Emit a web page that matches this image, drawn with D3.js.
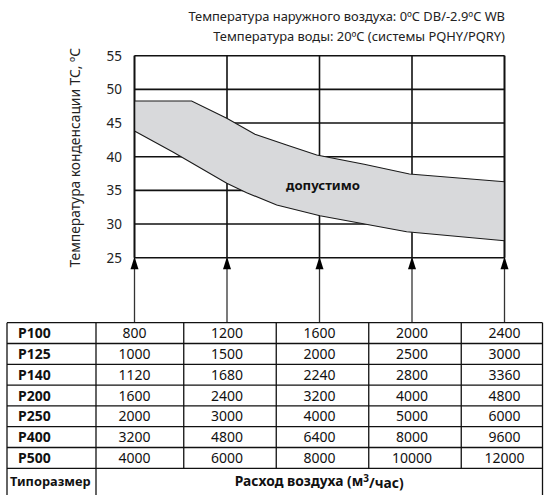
<!DOCTYPE html>
<html>
<head>
<meta charset="utf-8">
<script src="https://cdn.jsdelivr.net/npm/d3@7"></script>
<style>
  html, body { margin: 0; padding: 0; background: #fff; }
  svg { display: block; font-family: "Noto Sans", "Open Sans", sans-serif; }
</style>
</head>
<body>
<svg id="chart" width="544" height="495"></svg>
<script>
// ---- data ----
const airflowTicks = [800, 1200, 1600, 2000, 2400];          // P100 air flow, m3/h
const tempTicks = [25, 30, 35, 40, 45, 50, 55];
const upperBound = [[800, 48.27], [1047, 48.27], [1199, 45.7], [1321, 43.33], [1458, 41.74], [1588, 40.25], [1793, 38.87], [1989, 37.43], [2400, 36.29]];
const lowerBound = [[800, 43.82], [968, 40.65], [1199, 36.05], [1285, 34.65], [1415, 32.83], [1602, 31.24], [1977, 28.86], [2400, 27.52]];
const models = ["P100", "P125", "P140", "P200", "P250", "P400", "P500"];
const flowP100 = [800, 1200, 1600, 2000, 2400];
const flowP125 = [1000, 1500, 2000, 2500, 3000];
const flowP140 = [1120, 1680, 2240, 2800, 3360];
const flowP200 = [1600, 2400, 3200, 4000, 4800];
const flowP250 = [2000, 3000, 4000, 5000, 6000];
const flowP400 = [3200, 4800, 6400, 8000, 9600];
const flowP500 = [4000, 6000, 8000, 10000, 12000];
const tableValues = [flowP100, flowP125, flowP140, flowP200, flowP250, flowP400, flowP500];
const titleLine1 = "Температура наружного воздуха: 0ºC DB/-2.9ºC WB";
const titleLine2 = "Температура воды: 20ºC (системы PQHY/PQRY)";
const yLabel = "Температура конденсации ТС, ºС";
const bandLabel = "допустимо";
const footLeft = "Типоразмер";
const footRight = "Расход воздуха (м";

// ---- layout ----
const svg = d3.select("#chart");
const x = d3.scaleLinear().domain([800, 2400]).range([134.5, 504.5]);
const y = d3.scaleLinear().domain([25, 55]).range([257.7, 55.7]);
const tableTop = 322.7, rowH = 20.8, tableLeft = 7, tableRight = 542.5, firstColRight = 96;
const lineColor = "#111";

// title
svg.append("text").attr("x", 505).attr("y", 20.5).attr("text-anchor", "end")
  .attr("font-size", 12.9).attr("fill", "#222").text(titleLine1);
svg.append("text").attr("x", 505).attr("y", 40.5).attr("text-anchor", "end")
  .attr("font-size", 12.9).attr("fill", "#222").text(titleLine2);

// grid horizontal
svg.append("g").selectAll("line").data(tempTicks).join("line")
  .attr("x1", x(800)).attr("x2", x(2400))
  .attr("y1", d => y(d)).attr("y2", d => y(d))
  .attr("stroke", lineColor).attr("stroke-width", 1.6);
// grid vertical
svg.append("g").selectAll("line").data(airflowTicks).join("line")
  .attr("x1", d => x(d)).attr("x2", d => x(d))
  .attr("y1", y(55)).attr("y2", y(25))
  .attr("stroke", lineColor).attr("stroke-width", 1.6);

// band (drawn over grid)
const line = d3.line().x(d => x(d[0])).y(d => y(d[1]));
const bandPath = line(upperBound) + "L" + line(lowerBound.slice().reverse()).slice(1) + "Z";
svg.append("path").attr("d", bandPath).attr("fill", "#d8d9db").attr("stroke", "none");
svg.append("path").attr("d", line(upperBound)).attr("fill", "none").attr("stroke", "#1a1a1a").attr("stroke-width", 1.1);
svg.append("path").attr("d", line(lowerBound)).attr("fill", "none").attr("stroke", "#1a1a1a").attr("stroke-width", 1.1);
// left axis line over band, right edge of band
svg.append("line").attr("x1", x(800)).attr("x2", x(800)).attr("y1", y(55)).attr("y2", y(25))
  .attr("stroke", lineColor).attr("stroke-width", 1.6);
svg.append("line").attr("x1", x(2400)).attr("x2", x(2400))
  .attr("y1", y(55)).attr("y2", y(25))
  .attr("stroke", lineColor).attr("stroke-width", 1.6);

// y tick labels
svg.append("g").selectAll("text").data(tempTicks).join("text")
  .attr("x", 122).attr("y", d => y(d)).attr("dy", "0.36em")
  .attr("text-anchor", "end").attr("font-size", 13.5).attr("fill", "#222")
  .text(d => d);

// y label
svg.append("text").attr("transform", `translate(80,${y(40) + 1}) rotate(-90)`)
  .attr("text-anchor", "middle").attr("font-size", 13.8).attr("fill", "#222").text(yLabel);

// band label
svg.append("text").attr("x", 323).attr("y", 190).attr("text-anchor", "middle")
  .attr("font-size", 13.2).attr("font-weight", "bold").attr("fill", "#111").text(bandLabel);

// arrows
const arrows = svg.append("g");
arrows.selectAll("line").data(airflowTicks).join("line")
  .attr("x1", d => x(d)).attr("x2", d => x(d))
  .attr("y1", y(25)).attr("y2", tableTop)
  .attr("stroke", "#333").attr("stroke-width", 1.3);
arrows.selectAll("path").data(airflowTicks).join("path")
  .attr("d", d => `M${x(d)},${y(25) - 1} L${x(d) - 4},${y(25) + 11.5} L${x(d) + 4},${y(25) + 11.5} Z`)
  .attr("fill", "#000");

// table
const colEdges = [firstColRight].concat(airflowTicks.slice(0, -1).map((d, i) => (x(d) + x(airflowTicks[i + 1])) / 2 + 3)).concat([tableRight]);
const tbl = svg.append("g");
const nRows = models.length;
const tableBottom = tableTop + rowH * nRows;
const footBottom = 496;
tbl.selectAll("line.h").data(d3.range(nRows + 1)).join("line").attr("class", "h")
  .attr("x1", tableLeft).attr("x2", tableRight)
  .attr("y1", i => tableTop + i * rowH).attr("y2", i => tableTop + i * rowH)
  .attr("stroke", lineColor).attr("stroke-width", 1.3);
[tableLeft, firstColRight, tableRight].forEach(xx => {
  tbl.append("line").attr("x1", xx).attr("x2", xx).attr("y1", tableTop).attr("y2", footBottom)
    .attr("stroke", lineColor).attr("stroke-width", 1.3);
});
tbl.selectAll("line.v").data(colEdges.slice(1, -1)).join("line").attr("class", "v")
  .attr("x1", d => d).attr("x2", d => d).attr("y1", tableTop).attr("y2", tableBottom)
  .attr("stroke", lineColor).attr("stroke-width", 1.3);
tbl.selectAll("text.m").data(models).join("text").attr("class", "m")
  .attr("x", 18).attr("y", (d, i) => tableTop + i * rowH + rowH / 2).attr("dy", "0.36em")
  .attr("font-size", 14).attr("font-weight", "bold").attr("fill", "#111").text(d => d);
tableValues.forEach((row, i) => {
  tbl.append("g").selectAll("text").data(row).join("text")
    .attr("x", (d, j) => x(airflowTicks[j])).attr("y", tableTop + i * rowH + rowH / 2).attr("dy", "0.36em")
    .attr("text-anchor", "middle").attr("font-size", 14).attr("fill", "#111").text(d => d);
});
const footMid = (tableBottom + 494) / 2;
tbl.append("text").attr("x", 10).attr("y", footMid).attr("dy", "0.36em")
  .attr("font-size", 12.8).attr("font-weight", "bold").attr("fill", "#111").text(footLeft);
const ft = tbl.append("text").attr("x", (firstColRight + tableRight) / 2).attr("y", footMid).attr("dy", "0.36em")
  .attr("text-anchor", "middle").attr("font-size", 13.8).attr("font-weight", "bold").attr("fill", "#111");
ft.append("tspan").text(footRight);
ft.append("tspan").attr("dy", "-0.4em").attr("font-size", 10).text("3");
ft.append("tspan").attr("dy", "0.4em").text("/час)");
</script>
</body>
</html>
